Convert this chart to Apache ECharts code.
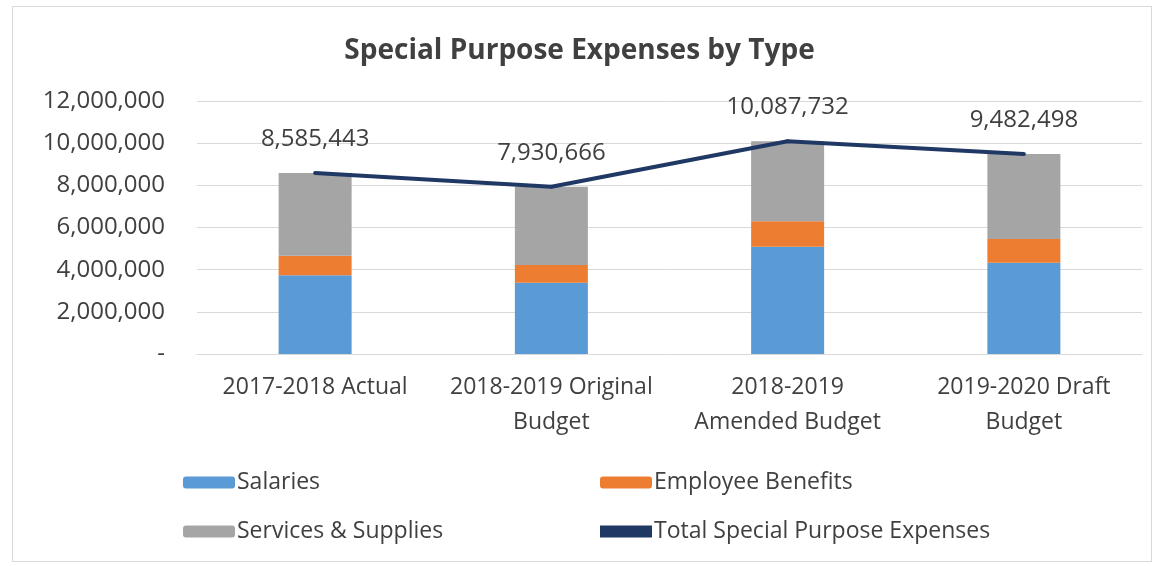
<!DOCTYPE html>
<html>
<head>
<meta charset="utf-8">
<script src="https://cdn.jsdelivr.net/npm/echarts@6/dist/echarts.min.js"></script>
<style>
  html, body { margin: 0; padding: 0; background: #fff; }
  #frame { position: absolute; left: 12px; top: 6px; width: 1140px; height: 556px; border: 1px solid #d9d9d9; box-sizing: border-box; }
  #chart { width: 1159px; height: 566px; }
</style>
</head>
<body>
<div id="frame"></div>
<div id="chart"></div>
<script>
const categories = ['2017-2018 Actual', '2018-2019 Original\nBudget', '2018-2019\nAmended Budget', '2019-2020 Draft\nBudget'];
const salaries = [3740000, 3380000, 5090000, 4330000];
const benefits = [920000, 840000, 1210000, 1120000];
const services = [3925443, 3710666, 3787732, 4032498];
const totals = [8585443, 7930666, 10087732, 9482498];

const fmt = v => v === 0 ? '-' : v.toLocaleString('en-US');
const font = '"Open Sans", "Noto Sans", sans-serif';

const chart = echarts.init(document.getElementById('chart'));

chart.setOption({
  animation: false,
  textStyle: { fontFamily: font },
  title: {
    text: 'Special Purpose Expenses by Type',
    left: 'center',
    top: 32,
    textStyle: { fontSize: 28, fontWeight: 'bold', color: '#404040', fontFamily: font }
  },
  grid: { left: 197, right: 17, top: 101, height: 253, containLabel: false },
  legend: [
    {
      left: 178, top: 466, orient: 'vertical', itemGap: 26,
      itemWidth: 52, itemHeight: 12,
      data: ['Salaries', 'Services & Supplies'],
      textStyle: { fontSize: 23, color: '#404040', padding: [0, 0, 0, -3] }
    },
    {
      left: 595, top: 466, orient: 'vertical', itemGap: 26,
      itemWidth: 52, itemHeight: 12,
      data: ['Employee Benefits', { name: 'Total Special Purpose Expenses', icon: 'rect', itemStyle: { color: '#1f3864' } }],
      textStyle: { fontSize: 23, color: '#404040', padding: [0, 0, 0, -3] }
    }
  ],
  xAxis: {
    type: 'category',
    data: categories,
    axisLine: { lineStyle: { color: '#d9d9d9' } },
    axisTick: { show: false },
    axisLabel: { interval: 0, fontSize: 23, color: '#404040', lineHeight: 35, margin: 16 }
  },
  yAxis: {
    type: 'value',
    min: 0, max: 12000000, interval: 2000000,
    axisLine: { show: false },
    axisTick: { show: false },
    splitLine: { lineStyle: { color: '#d9d9d9' } },
    axisLabel: { fontSize: 24, color: '#404040', margin: 32, formatter: fmt }
  },
  series: [
    { name: 'Salaries', type: 'bar', stack: 'a', data: salaries, barWidth: 73, itemStyle: { color: '#5b9bd5' } },
    { name: 'Employee Benefits', type: 'bar', stack: 'a', data: benefits, itemStyle: { color: '#ed7d31' } },
    { name: 'Services & Supplies', type: 'bar', stack: 'a', data: services, itemStyle: { color: '#a5a5a5' } },
    {
      name: 'Total Special Purpose Expenses', type: 'line', data: totals,
      symbol: 'circle', symbolSize: 4, showSymbol: true, z: 5,
      lineStyle: { color: '#1f3864', width: 4 },
      itemStyle: { color: '#1f3864' },
      label: {
        show: true, position: 'top', distance: 20,
        fontSize: 24, color: '#404040', formatter: p => fmt(p.value)
      }
    }
  ]
});
</script>
</body>
</html>
